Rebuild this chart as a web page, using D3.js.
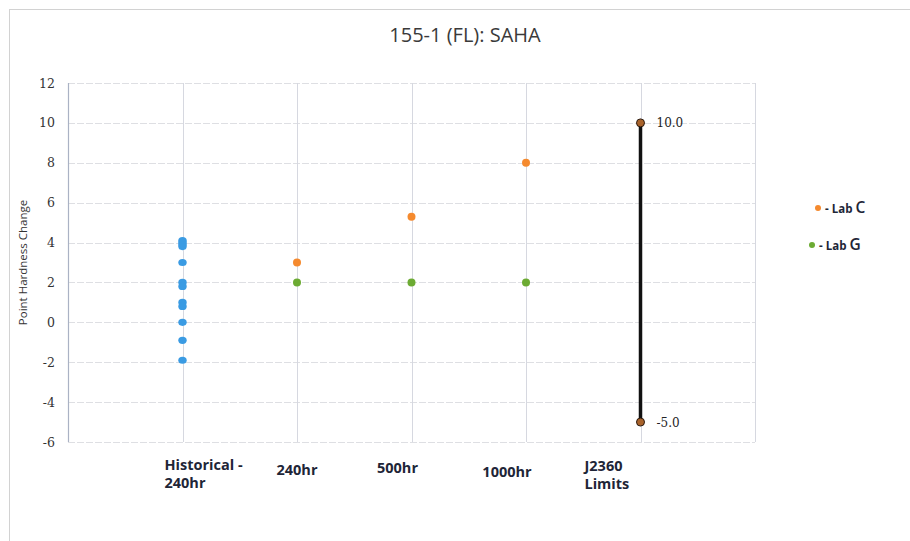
<!DOCTYPE html>
<html>
<head>
<meta charset="utf-8">
<script src="https://cdn.jsdelivr.net/npm/d3@7"></script>
<style>
  html, body { margin: 0; padding: 0; background: #fff; }
  svg { display: block; }
</style>
</head>
<body>
<svg id="chart" width="910" height="541"></svg>
<script>
// ---- data ----
const categories = ["Historical - 240hr", "240hr", "500hr", "1000hr", "J2360 Limits"];
const categoryLines = [["Historical -", "240hr"], ["240hr"], ["500hr"], ["1000hr"], ["J2360", "Limits"]];
const historicalValues = [4.1, 4.0, 3.9, 3.8, 3.0, 2.0, 1.8, 1.0, 0.8, 0.0, -0.9, -1.9];
const labCCategories = ["240hr", "500hr", "1000hr"];
const labCValues = [3.0, 5.3, 8.0];
const labGCategories = ["240hr", "500hr", "1000hr"];
const labGValues = [2.0, 2.0, 2.0];
const limitValues = [10.0, -5.0];
const yTicks = [-6, -4, -2, 0, 2, 4, 6, 8, 10, 12];
const legendNames = ["Lab C", "Lab G"];
const chartTitle = "155-1 (FL): SAHA";
const yTitle = "Point Hardness Change";

// ---- layout ----
const svg = d3.select("#chart");
const plot = { left: 68, right: 755, top: 83, bottom: 442 };
const colors = { hist: "#3a9be3", labC: "#f58a2e", labG: "#6cab33", limit: "#111", limitDot: "#a9632b" };

// outer frame
svg.append("rect").attr("x", 9.5).attr("y", 9.5).attr("width", 960).attr("height", 600)
  .attr("fill", "none").attr("stroke", "#d2d2d2").attr("stroke-width", 1);

const x = d3.scalePoint().domain(categories).range([plot.left, plot.right]).padding(1);
const y = d3.scaleLinear().domain([-6, 12]).range([plot.bottom, plot.top]);

// horizontal gridlines
svg.append("g").selectAll("line").data(yTicks).join("line")
  .attr("x1", plot.left).attr("x2", plot.right)
  .attr("y1", d => Math.round(y(d)) + 0.5).attr("y2", d => Math.round(y(d)) + 0.5)
  .attr("stroke", "#dedfe3").attr("stroke-width", 1).attr("stroke-dasharray", "7,2");
// vertical gridlines
svg.append("g").selectAll("line").data(categories).join("line")
  .attr("x1", d => Math.round(x(d)) + 0.5).attr("x2", d => Math.round(x(d)) + 0.5)
  .attr("y1", plot.top).attr("y2", plot.bottom)
  .attr("stroke", "#d6d8e0").attr("stroke-width", 1);
// right border
svg.append("line").attr("x1", plot.right + 0.5).attr("x2", plot.right + 0.5)
  .attr("y1", plot.top).attr("y2", plot.bottom).attr("stroke", "#d6d8e0");
// left axis line
svg.append("line").attr("x1", plot.left + 0.5).attr("x2", plot.left + 0.5)
  .attr("y1", plot.top).attr("y2", plot.bottom).attr("stroke", "#aab2c4").attr("stroke-width", 1.2);

// y axis tick labels
const yAxis = d3.axisLeft(y).tickValues(yTicks).tickSize(0).tickPadding(13).tickFormat(d => String(d));
const gy = svg.append("g").attr("transform", `translate(${plot.left},0)`).call(yAxis);
gy.select(".domain").remove();
gy.selectAll("text").attr("font-family", "DejaVu Serif, serif").attr("font-size", 12.5)
  .attr("fill", "#333");

// y title
svg.append("text").attr("transform", `translate(27,${(plot.top + plot.bottom) / 2}) rotate(-90)`)
  .attr("text-anchor", "middle").attr("font-family", "Open Sans, sans-serif").attr("font-size", 11.5)
  .attr("fill", "#333").text(yTitle);

// title
svg.append("text").attr("x", 465).attr("y", 42).attr("text-anchor", "middle")
  .attr("font-family", "Open Sans, sans-serif").attr("font-size", 20).attr("fill", "#3a3a3a")
  .text(chartTitle);

// category labels (text boxes drift slightly from ticks as in the reference)
const labelAnchor = ["start", "middle", "middle", "middle", "start"];
const labelShift = [-18, 0, -14, -19, -56];
const labelY = [470, 475, 473, 477, 471];
const gx = svg.append("g");
categories.forEach((c, i) => {
  const lx = x(c) + labelShift[i];
  const t = gx.append("text").attr("y", labelY[i])
    .attr("text-anchor", labelAnchor[i]).attr("font-family", "Open Sans, sans-serif")
    .attr("font-weight", 700).attr("font-size", 14.5).attr("fill", "#1e2537");
  categoryLines[i].forEach((line, j) => {
    t.append("tspan").attr("x", lx).attr("dy", j === 0 ? 0 : 18).text(line);
  });
});

// J2360 limit line
const limX = x("J2360 Limits");
svg.append("line").attr("x1", limX).attr("x2", limX)
  .attr("y1", y(d3.max(limitValues))).attr("y2", y(d3.min(limitValues)))
  .attr("stroke", colors.limit).attr("stroke-width", 3.5);
svg.append("g").selectAll("circle").data(limitValues).join("circle")
  .attr("cx", limX).attr("cy", d => y(d)).attr("r", 4)
  .attr("fill", colors.limitDot).attr("stroke", "#2a1a10").attr("stroke-width", 1);
svg.append("g").selectAll("text").data(limitValues).join("text")
  .attr("x", limX + 16).attr("y", d => y(d) + 4.5)
  .attr("font-family", "DejaVu Serif, serif").attr("font-size", 12).attr("fill", "#222")
  .text(d => d.toFixed(1));

// historical points
svg.append("g").selectAll("ellipse").data(historicalValues).join("ellipse")
  .attr("cx", x(categories[0])).attr("cy", d => y(d)).attr("rx", 4.2).attr("ry", 3.6)
  .attr("fill", colors.hist);

// Lab C
svg.append("g").selectAll("circle").data(labCValues).join("circle")
  .attr("cx", (d, i) => x(labCCategories[i])).attr("cy", d => y(d)).attr("r", 4)
  .attr("fill", colors.labC);
// Lab G
svg.append("g").selectAll("circle").data(labGValues).join("circle")
  .attr("cx", (d, i) => x(labGCategories[i])).attr("cy", d => y(d)).attr("r", 4)
  .attr("fill", colors.labG);

// legend
const legend = [
  { name: legendNames[0], color: colors.labC, x: 818, y: 208 },
  { name: legendNames[1], color: colors.labG, x: 812, y: 245 }
];
legend.forEach(l => {
  svg.append("circle").attr("cx", l.x).attr("cy", l.y).attr("r", 3).attr("fill", l.color);
  const t = svg.append("text").attr("x", l.x + 7).attr("y", l.y + 4.5)
    .attr("font-family", "Open Sans, sans-serif").attr("font-weight", 700).attr("fill", "#1e2537");
  t.append("tspan").attr("font-size", 11.5).text("- " + l.name.slice(0, -1));
  t.append("tspan").attr("font-size", 15.5).attr("font-weight", 600).text(l.name.slice(-1));
});
</script>
</body>
</html>
